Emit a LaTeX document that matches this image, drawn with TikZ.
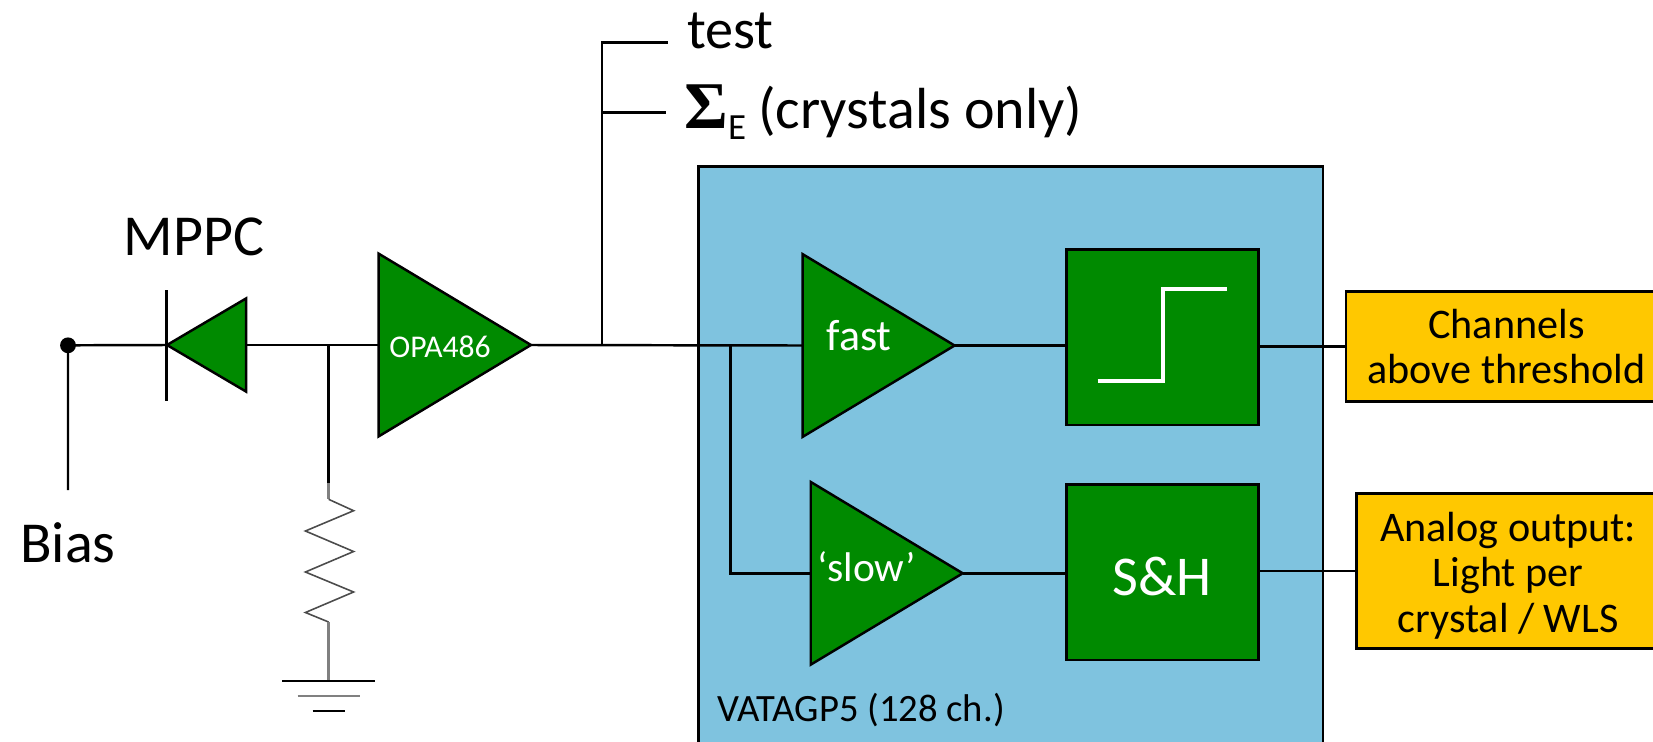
\documentclass[tikz,border=0pt]{standalone}
\usepackage{fontspec}
\setmainfont{Carlito}
\newfontfamily\sumfont{Liberation Serif}
\usetikzlibrary{positioning,shapes.geometric,calc}
\definecolor{ampgreen}{HTML}{008A00}
\definecolor{chipblue}{HTML}{7FC3DF}
\definecolor{outorange}{HTML}{FFC800}
\tikzset{
	wire/.style={black, line width=1.4pt},
	greywire/.style={black!50, line width=1.6pt},
	amp/.style={isosceles triangle, isosceles triangle stretches, draw=black, fill=ampgreen, line width=1.4pt, inner sep=0pt, outer sep=0pt},
	amplabel/.style={inner sep=0pt, text=white, anchor=base},
	block/.style={rectangle, draw=black, fill=ampgreen, line width=1.4pt, inner sep=0pt, outer sep=0pt, minimum width=109.3pt, minimum height=100pt},
	outbox/.style={rectangle, draw=black, fill=outorange, line width=1.4pt, inner sep=0pt, outer sep=0pt, align=center, font=\fontsize{24}{26}\selectfont},
	biglabel/.style={inner sep=0pt, font=\fontsize{33}{36}\selectfont},
}
\begin{document}
\begin{tikzpicture}[x=0.02cm, y=-0.02cm]
	\useasboundingbox (0,0) rectangle (1653,741);
	
	% VATA chip background
	\draw[fill=chipblue, line width=1.4pt] (698.6,166.7) rectangle (1323,760);
	\node[anchor=base west, inner sep=0pt, font=\fontsize{22}{24}\selectfont] (chiplabel) at (717,721) {VATAGP5 (128 ch.)};
	
	% Bias and MPPC
	\node[circle, fill=black, inner sep=0pt, minimum size=9pt] (biasdot) at (68,345.3) {};
	\coordinate (biasend) at (68,490);
	\node[biglabel, anchor=base] (bias) at (68,562.6) {Bias};
	\coordinate (bartop) at (166.4,290);
	\coordinate (barbot) at (166.4,401.4);
	\coordinate (barmid) at (166.4,345);
	\node[amp, shape border rotate=180, minimum width=53pt, minimum height=45pt, anchor=apex] (mppc) at (167,345) {};
	\node[biglabel, anchor=base] (mppclabel) at (194,255.4) {MPPC};
	
	% Preamplifier
	\node[amp, minimum width=104pt, minimum height=86.7pt, anchor=apex] (opa) at (531,345) {};
	\node[amplabel, font=\fontsize{18}{20}\selectfont] (opalabel) at (440,357.4) {OPA486};
	
	% Readout lines
	\coordinate (loadtop) at (328.6,345);
	\coordinate (loadmid) at (328.6,483);
	\coordinate (tap) at (602,345);
	\coordinate (testend) at (668,42.3);
	\coordinate (sumend) at (666.4,112.7);
	\coordinate (split) at (730.4,345);
	\node[biglabel, anchor=base west, font=\fontsize{32}{36}\selectfont] (test) at (686.8,48) {test};
	\node[biglabel, anchor=base west] (sum) at (684,128) {\makebox[42pt][l]{{\sumfont\bfseries\fontsize{38}{40}\selectfont Σ}\raisebox{-6.8pt}{\fontsize{21}{24}\selectfont E}}(crystals only)};
	
	% Amplifiers in the chip
	\node[amp, minimum width=104pt, minimum height=86.5pt, anchor=apex] (fast) at (954.6,345.5) {};
	\node[amplabel, font=\fontsize{25}{30}\selectfont] (fastlabel) at (859,350.7) {fast};
	\node[amp, minimum width=104pt, minimum height=86.5pt, anchor=apex] (slow) at (962.7,573.3) {};
	\node[amplabel, font=\fontsize{23.6}{30}\selectfont] (slowlabel) at (867,581.7) {`slow'};
	
	% Discriminator and S&H
	\node[block, anchor=north west] (disc) at (1066.6,249.3) {};
	\node[block, anchor=north west] (sh) at (1066.6,484.3) {};
	\node[amplabel, font=\fontsize{32}{36}\selectfont] (shlabel) at (1162.4,595) {S\&H};
	\draw[white, line width=2.2pt] (1097.5,381) -- (1163,381) -- (1163,289.3) -- (1226.5,289.3);
	
	% Outputs
	\node[outbox, anchor=north west, minimum width=182.6pt, minimum height=62.5pt] (chan) at (1346,291.7) {Channels\\above threshold};
	\node[outbox, anchor=north west, minimum width=172.4pt, minimum height=88.3pt] (analog) at (1356.7,493.3) {\rule{0pt}{22pt}Analog output:\\Light per\\crystal / WLS};
	
	% Wiring
	\draw[wire] (biasend) -- (biasdot.center) -- (barmid);
	\draw[wire] (bartop) -- (barbot);
	\draw[wire] (mppc.east) -- (opa.west);
	\draw[wire] (loadtop) -- (loadmid);
	\draw[wire] (opa.apex) -- (fast.west);
	\draw[wire] (tap) |- (testend);
	\draw[wire] (tap) |- (sumend);
	\draw[wire] (split) |- (slow.west);
	\draw[wire] (fast.apex) -- (disc.west |- fast.apex);
	\draw[wire] (slow.apex) -- (sh.west |- slow.apex);
	\draw[wire] (disc.east |- chan.west) -- (chan.west);
	\draw[wire] (sh.east |- analog.west) -- (analog.west);
	
	% Load resistor and ground
	\draw[greywire] (328.6,483) -- (328.6,499.3);
	\draw[black!70, line width=0.9pt] (328.6,499.3) -- (353.6,510.7) -- (305.4,531) -- (353.6,551.5) -- (305.4,572) -- (353.6,592) -- (305.4,612.5) -- (328.6,622);
	\draw[greywire] (328.6,622) -- (328.6,681);
	\draw[wire, line width=1pt] (282,681) -- (375,681);
	\draw[greywire] (297.5,696) -- (360,696);
	\draw[wire, line width=1pt] (312.5,711) -- (344.6,711);
\end{tikzpicture}
\end{document}
